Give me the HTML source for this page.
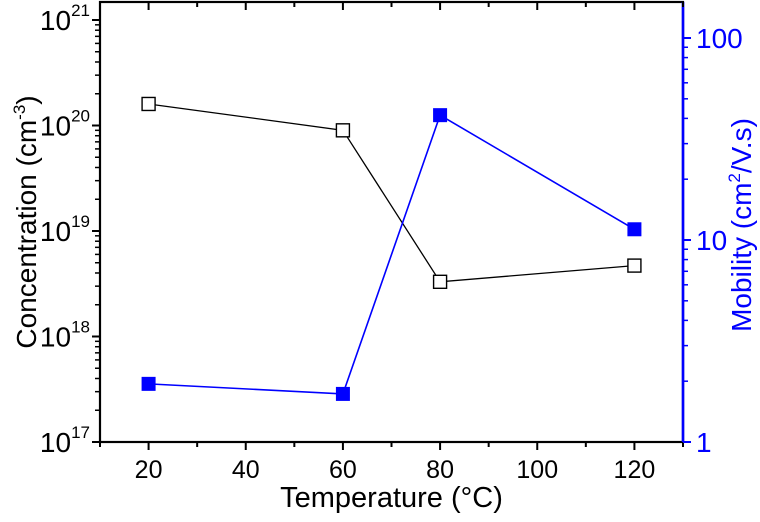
<!DOCTYPE html>
<html><head><meta charset="utf-8"><style>
body{margin:0;background:#fff}
svg text{font-family:"Liberation Sans",Arial,sans-serif}
</style></head><body>
<svg id="c" width="760" height="517" xmlns="http://www.w3.org/2000/svg"></svg>
<script>
const temps=[20,60,80,120];
const concentration=[1.6e20,9e19,3.3e18,4.7e18];
const mobility=[1.94,1.73,41.5,11.3];
const xTicks=[20,40,60,80,100,120];
const leftExp=[17,18,19,20,21];
const rightTicks=[1,10,100];
const L=100,R=683,B=442,T=2;
const xs=v=>L+(v-10)/120*(R-L);
const yl=v=>B-(Math.log10(v)-17)*105.5;
const yr=v=>B-Math.log10(v)*202;
const svg=document.getElementById('c');const NS='http://www.w3.org/2000/svg';
function mk(t,a,p){const e=document.createElementNS(NS,t);for(const k in a)e.setAttribute(k,a[k]);(p||svg).appendChild(e);return e;}
function ln(x1,y1,x2,y2,c,w){return mk('line',{x1,y1,x2,y2,stroke:c,'stroke-width':w||2});}
let f=mk('rect',{x:L,y:T,width:R-L,height:B-T,fill:'none',stroke:'#000','stroke-width':2.2});

let ra=ln(R,T,R,B,'#0000ff',2.6);

for(let v=10;v<=130;v+=10){const x=xs(v);const maj=v%20==0;ln(x,B,x,B+(maj?8:5),'#000');ln(x,T,x,T+(maj?8:5),'#000');}
xTicks.forEach(v=>{const t=mk('text',{x:xs(v),y:B+36,'text-anchor':'middle','font-size':25});t.textContent=v;
});
leftExp.forEach((e,i)=>{const y=yl(Math.pow(10,e));ln(L-8,y,L,y,'#000');
const t=mk('text',{x:L-10,y:y+10,'text-anchor':'end','font-size':28});t.innerHTML='10<tspan font-size="17" dy="-14">'+e+'</tspan>';

if(i<leftExp.length-1)for(let m=2;m<10;m++){const yy=yl(m*Math.pow(10,e));ln(L-5,yy,L,yy,'#000',1.5);}});
rightTicks.forEach((v,i)=>{const y=yr(v);ln(R,y,R+8,y,'#0000ff');
const t=mk('text',{x:R+13,y:y+10,'font-size':28,fill:'#0000ff'});t.textContent=v;

if(i<rightTicks.length-1)for(let m=2;m<10;m++){const yy=yr(m*v);ln(R,yy,R+5,yy,'#0000ff',1.5);}});
let xt=mk('text',{x:(L+R)/2,y:507,'text-anchor':'middle','font-size':29});xt.textContent='Temperature (°C)';

let yt=mk('text',{x:0,y:0,'text-anchor':'middle','font-size':28,transform:'translate(36,222) rotate(-90)'});yt.innerHTML='Concentration (cm<tspan font-size="17" dy="-11">-3</tspan><tspan dy="11">)</tspan>';

let rt=mk('text',{x:0,y:0,'text-anchor':'middle','font-size':28,fill:'#0000ff',transform:'translate(751,225) rotate(-90)'});rt.innerHTML='Mobility (cm<tspan font-size="17" dy="-11">2</tspan><tspan dy="11">/V.s)</tspan>';

const pc=temps.map((t,i)=>xs(t)+','+yl(concentration[i])).join(' ');
let p1=mk('polyline',{points:pc,fill:'none',stroke:'#000','stroke-width':1.3});

const pm=temps.map((t,i)=>xs(t)+','+yr(mobility[i])).join(' ');
let p2=mk('polyline',{points:pm,fill:'none',stroke:'#0000ff','stroke-width':1.6});

temps.forEach((t,i)=>{let r=mk('rect',{x:xs(t)-6.5,y:yl(concentration[i])-6.5,width:13,height:13,fill:'#fff',stroke:'#000','stroke-width':1.4});

let q=mk('rect',{x:xs(t)-7,y:yr(mobility[i])-7,width:14,height:14,fill:'#0000ff'});
});
</script>
</body></html>
